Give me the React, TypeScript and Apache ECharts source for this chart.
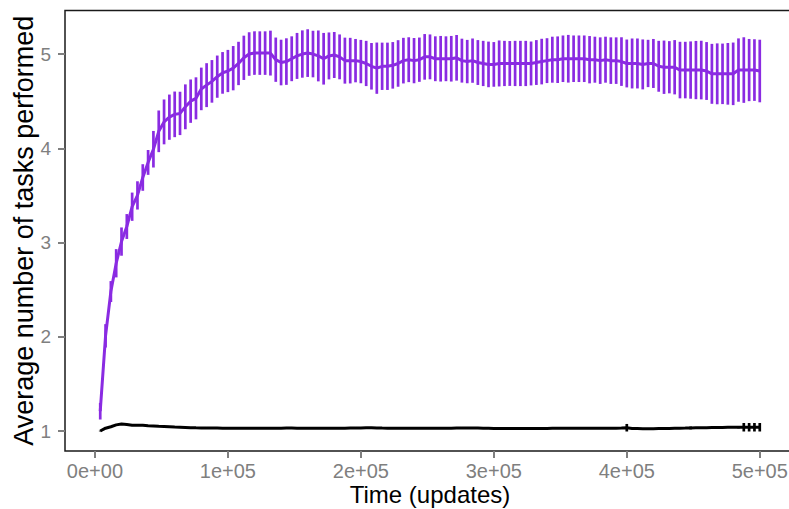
import React, { useEffect, useRef } from "react";
import * as echarts from "echarts";

const STEP = 4000; // time between samples (updates)

const purpleMean = [
  1.21, 2.01, 2.48, 2.78, 3.01, 3.17, 3.38, 3.5, 3.69, 3.85,
  3.99, 4.18, 4.28, 4.33, 4.36, 4.37, 4.44, 4.5, 4.53, 4.63,
  4.67, 4.71, 4.76, 4.8, 4.82, 4.85, 4.9, 4.96, 5.0, 5.01,
  5.01, 5.01, 5.01, 4.94, 4.91, 4.92, 4.95, 4.98, 5.0, 5.01,
  5.0, 4.98, 4.95, 4.98, 4.99, 4.97, 4.93, 4.93, 4.93, 4.92,
  4.9, 4.87, 4.85, 4.87, 4.87, 4.88, 4.9, 4.93, 4.94, 4.93,
  4.94, 4.97, 4.97, 4.95, 4.95, 4.95, 4.95, 4.96, 4.93, 4.92,
  4.93, 4.91, 4.9, 4.89, 4.89, 4.9, 4.9, 4.9, 4.9, 4.9,
  4.9, 4.9, 4.91, 4.92, 4.93, 4.94, 4.94, 4.95, 4.95, 4.95,
  4.95, 4.95, 4.94, 4.94, 4.93, 4.94, 4.93, 4.93, 4.92, 4.9,
  4.9, 4.9, 4.89, 4.9, 4.9, 4.87, 4.86, 4.86, 4.86, 4.83,
  4.83, 4.83, 4.83, 4.83, 4.82, 4.79, 4.79, 4.79, 4.79, 4.79,
  4.83, 4.83, 4.83, 4.83, 4.82,
];

const purpleErr = [
  0.088, 0.124, 0.111, 0.15, 0.15, 0.132, 0.15, 0.15, 0.141, 0.132,
  0.194, 0.221, 0.238, 0.24, 0.242, 0.23, 0.238, 0.23, 0.223, 0.226,
  0.233, 0.226, 0.224, 0.221, 0.224, 0.235, 0.23, 0.235, 0.231, 0.231,
  0.231, 0.231, 0.238, 0.235, 0.242, 0.247, 0.238, 0.244, 0.251, 0.253,
  0.247, 0.27, 0.274, 0.249, 0.244, 0.238, 0.244, 0.242, 0.23, 0.23,
  0.24, 0.247, 0.272, 0.251, 0.251, 0.247, 0.247, 0.242, 0.238, 0.24,
  0.235, 0.242, 0.238, 0.238, 0.242, 0.238, 0.242, 0.242, 0.233, 0.23,
  0.235, 0.238, 0.24, 0.242, 0.237, 0.244, 0.24, 0.238, 0.24, 0.24,
  0.24, 0.233, 0.238, 0.242, 0.238, 0.244, 0.247, 0.247, 0.253, 0.247,
  0.247, 0.247, 0.251, 0.244, 0.247, 0.244, 0.247, 0.247, 0.258, 0.254,
  0.265, 0.265, 0.265, 0.251, 0.26, 0.27, 0.283, 0.277, 0.288, 0.3,
  0.3, 0.304, 0.309, 0.311, 0.307, 0.318, 0.323, 0.321, 0.327, 0.332,
  0.336, 0.348, 0.33, 0.327, 0.332,
];

const blackMean = [
  1.0, 1.03, 1.045, 1.065, 1.075, 1.07, 1.062, 1.062, 1.06, 1.056,
  1.053, 1.05, 1.048, 1.045, 1.042, 1.04, 1.038, 1.036, 1.034, 1.033,
  1.032, 1.031, 1.031, 1.03, 1.03, 1.03, 1.03, 1.03, 1.03, 1.03,
  1.03, 1.03, 1.03, 1.03, 1.03, 1.031, 1.031, 1.03, 1.03, 1.03,
  1.03, 1.03, 1.029, 1.029, 1.03, 1.03, 1.03, 1.031, 1.032, 1.033,
  1.034, 1.035, 1.033, 1.031, 1.03, 1.03, 1.029, 1.029, 1.029, 1.03,
  1.03, 1.03, 1.029, 1.029, 1.029, 1.03, 1.03, 1.031, 1.032, 1.033,
  1.033, 1.032, 1.03, 1.029, 1.028, 1.028, 1.028, 1.028, 1.028, 1.028,
  1.028, 1.028, 1.028, 1.028, 1.028, 1.029, 1.029, 1.029, 1.029, 1.029,
  1.029, 1.029, 1.029, 1.029, 1.029, 1.029, 1.03, 1.03, 1.031, 1.035,
  1.027, 1.026, 1.025, 1.025, 1.025, 1.026, 1.027, 1.028, 1.029, 1.03,
  1.031, 1.033, 1.035, 1.035, 1.036, 1.037, 1.038, 1.038, 1.039, 1.04,
  1.04, 1.04, 1.04, 1.04, 1.04,
];

const blackErr = [
  0.004, 0.004, 0.004, 0.004, 0.004, 0.004, 0.004, 0.004, 0.004, 0.004,
  0.004, 0.004, 0.004, 0.004, 0.004, 0.004, 0.004, 0.004, 0.004, 0.004,
  0.004, 0.004, 0.004, 0.004, 0.004, 0.004, 0.004, 0.004, 0.004, 0.004,
  0.004, 0.004, 0.004, 0.004, 0.004, 0.004, 0.004, 0.004, 0.004, 0.004,
  0.004, 0.004, 0.004, 0.004, 0.004, 0.004, 0.004, 0.004, 0.004, 0.004,
  0.004, 0.004, 0.004, 0.004, 0.004, 0.004, 0.004, 0.004, 0.004, 0.004,
  0.004, 0.004, 0.004, 0.004, 0.004, 0.004, 0.004, 0.004, 0.004, 0.004,
  0.004, 0.004, 0.004, 0.004, 0.004, 0.004, 0.004, 0.004, 0.004, 0.004,
  0.004, 0.004, 0.004, 0.004, 0.004, 0.004, 0.004, 0.004, 0.004, 0.004,
  0.004, 0.004, 0.004, 0.004, 0.004, 0.004, 0.004, 0.004, 0.004, 0.04,
  0.004, 0.004, 0.004, 0.004, 0.004, 0.004, 0.004, 0.004, 0.004, 0.004,
  0.004, 0.015, 0.004, 0.004, 0.004, 0.004, 0.004, 0.004, 0.004, 0.004,
  0.012, 0.045, 0.045, 0.045, 0.045,
];

const xTickValues = [0, 100000, 200000, 300000, 400000, 500000];
const xTickLabels = ["0e+00", "1e+05", "2e+05", "3e+05", "4e+05", "5e+05"];
const yTickValues = [1, 2, 3, 4, 5];
const yTickLabels = ["1", "2", "3", "4", "5"];

const PURPLE = "#8A2BE2";
const BLACK = "#000000";
const FONT = "Liberation Sans, Arial, Helvetica, sans-serif";

function lineData(mean: number[]) {
  return mean.map((m, i) => [(i + 1) * STEP, m]);
}
function errData(mean: number[], err: number[]) {
  return mean.map((m, i) => [(i + 1) * STEP, m - err[i], m + err[i]]);
}

function errSeries(name: string, data: number[][], color: string) {
  return {
    name,
    type: "custom",
    data,
    encode: { x: 0, y: [1, 2] },
    renderItem: (_params: any, api: any) => {
      const x = api.value(0);
      const p1 = api.coord([x, api.value(1)]);
      const p2 = api.coord([x, api.value(2)]);
      return {
        type: "line",
        shape: { x1: p1[0], y1: p1[1], x2: p2[0], y2: p2[1] },
        style: { stroke: color, lineWidth: 2.7 },
      };
    },
    z: 3,
  };
}

export default function App() {
  const ref = useRef<HTMLDivElement>(null);
  useEffect(() => {
    if (!ref.current) return;
    const chart = echarts.init(ref.current, undefined, { renderer: "svg" });
    const option: any = {
      animation: false,
      backgroundColor: "#ffffff",
      grid: {
        left: 65,
        top: 10.5,
        width: 730,
        height: 440.5,
        outerBoundsMode: "none",
        containLabel: false,
        show: true,
        borderColor: "#1a1a1a",
        borderWidth: 1.5,
        backgroundColor: "transparent",
      },
      xAxis: {
        type: "value",
        min: -22500,
        max: 526500,
        splitLine: { show: false },
        axisLine: { show: false, onZero: false },
        axisTick: {
          show: true,
          customValues: xTickValues,
          length: 7,
          lineStyle: { color: "#7f7f7f", width: 2 },
        },
        axisLabel: {
          customValues: xTickValues,
          formatter: (v: number) => xTickLabels[xTickValues.indexOf(v)] ?? "",
          color: "#7f7f7f",
          fontSize: 20,
          fontFamily: FONT,
          margin: 10,
        },
        name: "Time (updates)",
        nameLocation: "middle",
        nameGap: 33,
        nameMoveOverlap: false,
        nameTextStyle: {
          color: "#000",
          fontSize: 24,
          lineHeight: 20,
          fontFamily: FONT,
        },
      },
      yAxis: {
        type: "value",
        min: 0.788,
        max: 5.462,
        splitLine: { show: false },
        axisLine: { show: false, onZero: false },
        axisTick: {
          show: true,
          customValues: yTickValues,
          length: 7,
          lineStyle: { color: "#7f7f7f", width: 2 },
        },
        axisLabel: {
          customValues: yTickValues,
          formatter: (v: number) => yTickLabels[yTickValues.indexOf(v)] ?? "",
          color: "#7f7f7f",
          fontSize: 19,
          fontFamily: FONT,
          margin: 14,
        },
        name: "Average number of tasks performed",
        nameLocation: "middle",
        nameGap: 28,
        nameMoveOverlap: false,
        nameTextStyle: { color: "#000", fontSize: 27, fontFamily: FONT },
      },
      series: [
        errSeries("purple-err", errData(purpleMean, purpleErr), PURPLE),
        {
          name: "purple",
          type: "line",
          data: lineData(purpleMean),
          showSymbol: false,
          lineStyle: { color: PURPLE, width: 3 },
          itemStyle: { color: PURPLE },
          z: 4,
        },
        errSeries("black-err", errData(blackMean, blackErr), BLACK),
        {
          name: "black",
          type: "line",
          data: lineData(blackMean),
          showSymbol: false,
          lineStyle: { color: BLACK, width: 3 },
          itemStyle: { color: BLACK },
          z: 4,
        },
      ],
    };
    chart.setOption(option);
    return () => chart.dispose();
  }, []);
  return (
    <div
      ref={ref}
      style={{ position: "absolute", left: 0, top: 0, width: 789, height: 509 }}
    />
  );
}
